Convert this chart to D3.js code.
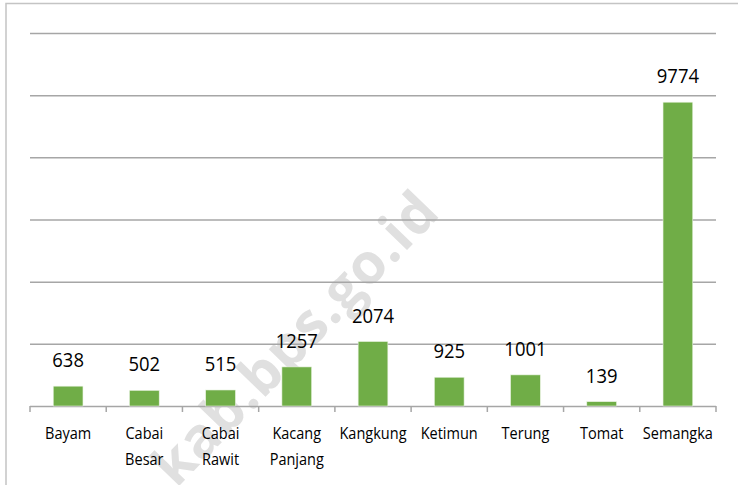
<!DOCTYPE html>
<html>
<head>
<meta charset="utf-8">
<script src="https://cdn.jsdelivr.net/npm/d3@7"></script>
<style>
  html, body { margin: 0; padding: 0; background: #fff; }
  #chart { width: 738px; height: 485px; }
  text { font-family: "Open Sans", "Liberation Sans", sans-serif; fill: #000; }
</style>
</head>
<body>
<div id="chart"></div>
<script>
// data
const categories = ["Bayam", "Cabai Besar", "Cabai Rawit", "Kacang Panjang", "Kangkung", "Ketimun", "Terung", "Tomat", "Semangka"];
const values = [638, 502, 515, 1257, 2074, 925, 1001, 139, 9774];
const yTicks = [0, 2000, 4000, 6000, 8000, 10000, 12000];

const width = 738, height = 485;
const margin = { top: 33, right: 22, bottom: 79, left: 30 };
const innerW = width - margin.left - margin.right;
const innerH = height - margin.top - margin.bottom;

const svg = d3.select("#chart").append("svg")
  .attr("width", width)
  .attr("height", height);

// watermark sits behind everything
svg.append("text")
  .attr("transform", "translate(442,214) rotate(-46)")
  .attr("text-anchor", "end")
  .attr("font-size", 56)
  .attr("font-weight", "bold")
  .attr("letter-spacing", 1)
  .style("fill", "#e0e0e0")
  .text("kab.bps.go.id");

// outer frame (only top and left edges show)
svg.append("path")
  .attr("d", `M6,${height} V3.5 H${width}`)
  .attr("fill", "none")
  .attr("stroke", "#c4c4c4")
  .attr("stroke-width", 1.5);

const g = svg.append("g")
  .attr("transform", `translate(${margin.left},${margin.top})`);

const x = d3.scaleBand().domain(categories).range([0, innerW]);
const y = d3.scaleLinear().domain([0, 12000]).range([innerH, 0]);

// gridlines
const grid = g.append("g")
  .call(d3.axisLeft(y).tickValues(yTicks).tickSize(-innerW).tickFormat(""));
grid.select(".domain").remove();
grid.selectAll("line").attr("stroke", "#a6a6a6").attr("stroke-width", 1.5);

// category boundary ticks on the baseline
const bounds = categories.map(c => x(c)).concat([innerW]);
g.append("g").selectAll("line")
  .data(bounds)
  .join("line")
  .attr("x1", d => d).attr("x2", d => d)
  .attr("y1", innerH).attr("y2", innerH + 6)
  .attr("stroke", "#a6a6a6")
  .attr("stroke-width", 1.5);

// bars
const barW = x.bandwidth() * 0.39;
g.append("g").selectAll("rect")
  .data(values)
  .join("rect")
  .attr("x", (d, i) => x(categories[i]) + (x.bandwidth() - barW) / 2)
  .attr("y", d => y(d))
  .attr("width", barW)
  .attr("height", d => innerH - y(d))
  .attr("fill", "#70ad47")
  .attr("stroke", "#e8f2e0")
  .attr("stroke-width", 0.6);

// value labels (squeezed a little to look like Calibri)
g.append("g").selectAll("text")
  .data(values)
  .join("text")
  .attr("transform", (d, i) => `translate(${x(categories[i]) + x.bandwidth() / 2},${y(d) - 19}) scale(0.9,1)`)
  .attr("text-anchor", "middle")
  .attr("font-size", 20.5)
  .text(d => d);

// category labels (wrapped on spaces)
const catG = g.append("g").selectAll("text")
  .data(categories)
  .join("text")
  .attr("transform", d => `translate(${x(d) + x.bandwidth() / 2},${innerH + 33}) scale(0.88,1)`)
  .attr("text-anchor", "middle")
  .attr("font-size", 16.5);
catG.each(function(d) {
  const t = d3.select(this);
  d.split(" ").forEach((w, i) => {
    t.append("tspan")
      .attr("x", 0)
      .attr("dy", i === 0 ? 0 : 26.5)
      .text(w);
  });
});
</script>
</body>
</html>
